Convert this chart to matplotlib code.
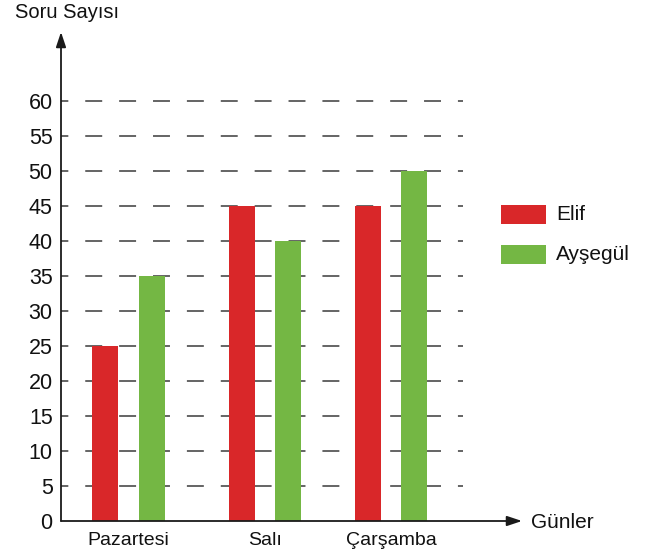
import matplotlib
matplotlib.use("Agg")
import matplotlib.pyplot as plt
from matplotlib.patches import Rectangle
from matplotlib.lines import Line2D

# ---- data ----
days = ["Pazartesi", "Salı", "Çarşamba"]
series_names = ["Elif", "Ayşegül"]
elif_vals = [25, 45, 45]
aysegul_vals = [35, 40, 50]
yticks = [0, 5, 10, 15, 20, 25, 30, 35, 40, 45, 50, 55, 60]
y_label = "Soru Sayısı"
x_label = "Günler"

# ---- style ----
red = "#D92729"
green = "#74B744"
colors = [red, green]
font = "Liberation Sans"
plt.rcParams["font.family"] = [font, "DejaVu Sans"]

W, H = 655, 553
fig = plt.figure(figsize=(W / 100, H / 100), dpi=100)

# axes placement in pixels
ax_left_px, ax_right_px = 61, 522
ax_bottom_px, ax_top_px = 521, 32
ax = fig.add_axes([ax_left_px / W, 1 - ax_bottom_px / H,
                   (ax_right_px - ax_left_px) / W,
                   (ax_bottom_px - ax_top_px) / H])

px_per_unit_x = 131.15
center0_px = 128.7
group_pos = [0.0, 1.039, 2.0]
xlim = ((ax_left_px - center0_px) / px_per_unit_x,
        (ax_right_px - center0_px) / px_per_unit_x)
px_per_unit_y = 7.0
ylim = (0, (ax_bottom_px - ax_top_px) / px_per_unit_y)
ax.set_xlim(*xlim)
ax.set_ylim(*ylim)

# dashed grid lines
grid_end = (463 - center0_px) / px_per_unit_x
dash_pt = 15.4 * 0.72
for yv in yticks[1:]:
    ln = Line2D([xlim[0], grid_end], [yv, yv], color="#3a3a3a", lw=1.1,
                zorder=1, linestyle=(6.3, (dash_pt, dash_pt)))
    ax.add_line(ln)

# bars
bw = 0.2
off = 0.178
for i, (vals, c) in enumerate(zip([elif_vals, aysegul_vals], colors)):
    xs = [g + (-off if i == 0 else off) for g in group_pos]
    ax.bar(xs, vals, width=bw, color=c, zorder=2, linewidth=0)

# axes / arrows
for s in ax.spines.values():
    s.set_visible(False)
arrow_kw = dict(arrowstyle="-|>,head_length=0.9,head_width=0.3",
                color="#1a1a1a", lw=1.3, shrinkA=0, shrinkB=0)
ax.annotate("", xy=(1, 0), xytext=(0, 0), xycoords="axes fraction",
            arrowprops=arrow_kw, annotation_clip=False)
ax.annotate("", xy=(0, 1), xytext=(0, 0), xycoords="axes fraction",
            arrowprops=arrow_kw, annotation_clip=False)

ax.set_yticks(yticks)
ax.set_yticklabels([str(v) for v in yticks], fontsize=15.5, color="#111")
ax.tick_params(axis="y", length=0, pad=6)
ax.set_xticks(group_pos)
ax.set_xticklabels(days, fontsize=14, color="#111")
ax.tick_params(axis="x", length=0, pad=8)

# axis titles
fig.text(15 / W, 1 - 13 / H, y_label, fontsize=14.5, ha="left", va="center",
         color="#111")
fig.text(531 / W, 1 - 522 / H, x_label, fontsize=15, ha="left",
         va="center", color="#111")

# legend
leg_tops = [205, 245]
for name, c, top in zip(series_names, colors, leg_tops):
    fig.patches.append(Rectangle((501 / W, 1 - (top + 19) / H), 45 / W, 19 / H,
                                 transform=fig.transFigure, color=c,
                                 linewidth=0))
    fig.text(556 / W, 1 - (top + 9.5) / H, name, fontsize=15, ha="left",
             va="center", color="#111")

fig.savefig("out.png", dpi=100)
